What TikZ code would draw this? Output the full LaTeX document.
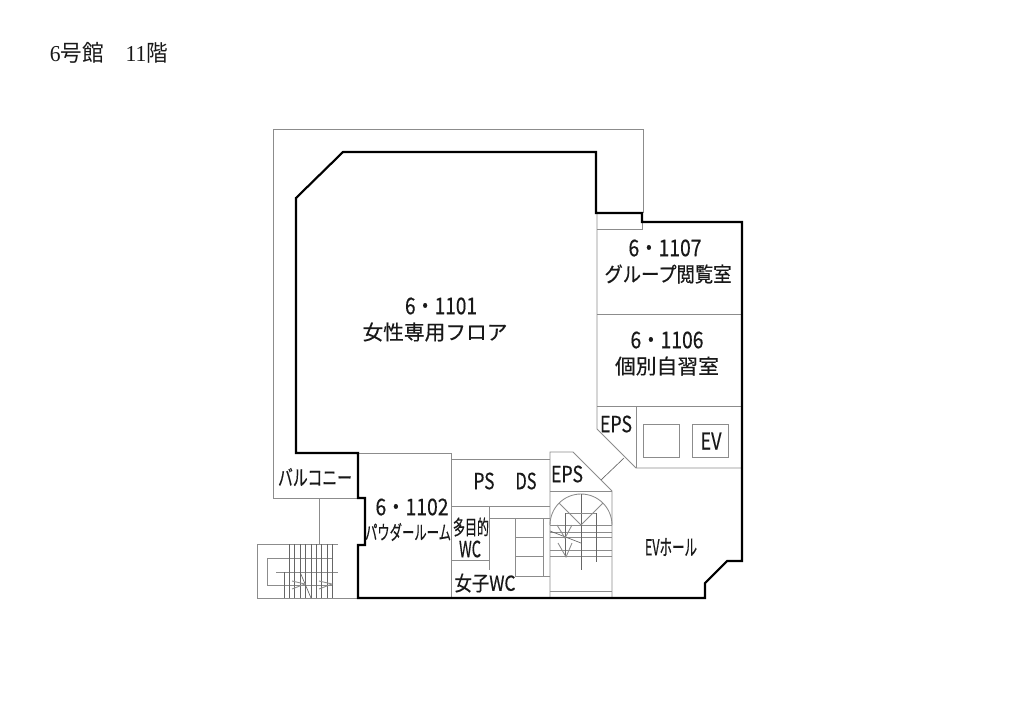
\documentclass[tikz,border=0pt]{standalone}
\usepackage{fontspec}
\usepackage{graphicx}
\setmainfont[FakeBold=0.4]{Noto Sans CJK JP}
\newfontfamily\serifjp{Liberation Serif}
\newfontfamily\titlejp{Noto Sans CJK JP}
\definecolor{thinline}{gray}{0.55}
\definecolor{darkline}{gray}{0.4}
\tikzset{
  px/.style={x=0.75pt,y=-0.75pt},
  thin line/.style={draw=thinline,line width=0.65pt,line cap=butt},
  dark line/.style={draw=darkline,line width=0.5pt},
  wall/.style={draw=black,line width=1.6pt,line join=miter},
  lab/.style={inner sep=0pt,outer sep=0pt,text=black!90}
}
% name, x, y, width px, height px, text
\newcommand{\lbl}[6]{\node[lab] (#1) at (#2,#3) {\resizebox*{#4\dimexpr0.75pt\relax}{#5\dimexpr0.75pt\relax}{#6}};}
\begin{document}
\begin{tikzpicture}[px]
\useasboundingbox (0,0) rectangle (1024,724);
% balcony / outer thin outline
\draw[thin line] (643,213) -- (643,129) -- (273,129) -- (273,498) -- (358,498);
\draw[thin line] (319,498) -- (319,545);
% rooms on the right
\draw[thin line] (597,213) -- (597,429) -- (636,468) -- (742,468);
\draw[thin line] (597,229) -- (642,229) -- (642,213);
\draw[thin line] (597,314) -- (742,314);
\draw[thin line] (597,406) -- (742,406);
\draw[thin line] (636,406) -- (636,468);
\draw[thin line] (643,424) rectangle (679,457);
\draw[thin line] (692,424) rectangle (728,457);
\draw[dark line] (601,480) -- (624,458);
% centre core
\draw[thin line] (358,453) -- (451,453) -- (451,598);
\draw[thin line] (451,459) -- (550,459);
\draw[thin line] (451,506) -- (550,506);
\draw[thin line] (489,506) -- (489,570);
\draw[thin line] (451,560) -- (489,560);
\draw[thin line] (489,518) -- (550,518);
\draw[thin line] (515,518) -- (515,576);
\draw[thin line] (543,518) -- (543,576);
\draw[thin line] (515,537) -- (543,537);
\draw[thin line] (515,556) -- (543,556);
\draw[thin line] (515,576) -- (550,576);
\draw[thin line] (550,598) -- (550,452) -- (573,452) -- (612,491) -- (612,598);
\draw[thin line] (550,491) -- (612,491);
% spiral stair
\draw[thin line] (550,525) arc[start angle=180,end angle=360,radius=31];
\foreach \yy in {525,532,537,550,556,591}{\draw[thin line] (550,\yy) -- (612,\yy);}
\draw[dark line] (581,494) -- (581,570);
\draw[thin line] (559,503) -- (581,525) -- (603,503);
\draw[thin line] (565,513) -- (596,513);
\draw[dark line] (596,513) -- (596,562);
\draw[dark line] (565,513) -- (565,557);
\draw[dark line] (550,531) -- (581,543);
\draw[thin line] (557,525) -- (565,538) -- (572,525);
\draw[thin line] (558,543) -- (566,557) -- (572,543);
% external stair
\draw[thin line] (338,544) -- (257,544) -- (257,598) -- (358,598);
\draw[thin line] (333,558) -- (267,558) -- (267,585) -- (333,585);
\draw[thin line] (276,572) -- (338,572);
\draw[dark line] (284,572) -- (284,598);
\foreach \xx in {289,294,300,305,311,316,321,327,332}{\draw[dark line] (\xx,544) -- (\xx,598);}
\draw[dark line] (300,572) -- (311,598);
\draw[thin line] (292,581) -- (305,584) -- (292,589);
\draw[thin line] (319,581) -- (332,584) -- (319,589);
% thick walls
\draw[wall] (343,152) -- (596,152) -- (596,213) -- (642,213) -- (642,222) -- (742,222) -- (742,561) -- (727,561) -- (705,583) -- (705,598) -- (358,598) -- (358,545) -- (365,545) -- (365,498) -- (358,498) -- (358,453) -- (296,453) -- (296,198) -- cycle;
% labels
\node[lab] (title) at (109,53) {\resizebox*{118\dimexpr0.75pt\relax}{21\dimexpr0.75pt\relax}{\serifjp 6\titlejp 号館　\serifjp 11\titlejp 階}};
\lbl{r1101a}{441}{306}{72}{17}{6・1101}
\lbl{r1101b}{435}{332}{145}{19}{女性専用フロア}
\lbl{r1107a}{665}{248}{73}{17}{6・1107}
\lbl{r1107b}{668}{274}{127}{19}{グループ閲覧室}
\lbl{r1106a}{667}{340}{73}{17}{6・1106}
\lbl{r1106b}{667}{366}{104}{19}{個別自習室}
\lbl{eps1}{616}{424}{32}{17}{EPS}
\lbl{ev}{711}{441}{21}{17}{EV}
\lbl{ps}{484}{481}{21}{17}{PS}
\lbl{ds}{526}{481}{21}{17}{DS}
\lbl{eps2}{567}{474}{32}{17}{EPS}
\lbl{balc}{315}{477}{74}{18}{バルコニー}
\lbl{r1102a}{412}{507}{73}{17}{6・1102}
\lbl{r1102b}{408}{532}{86}{18}{パウダールーム}
\lbl{mp}{471}{527}{36}{19}{多目的}
\lbl{wc}{470}{549}{22}{17}{WC}
\lbl{ladies}{485}{583}{61}{19}{女子WC}
\lbl{evh}{671}{547}{52}{18}{EVホール}
\end{tikzpicture}
\end{document}
